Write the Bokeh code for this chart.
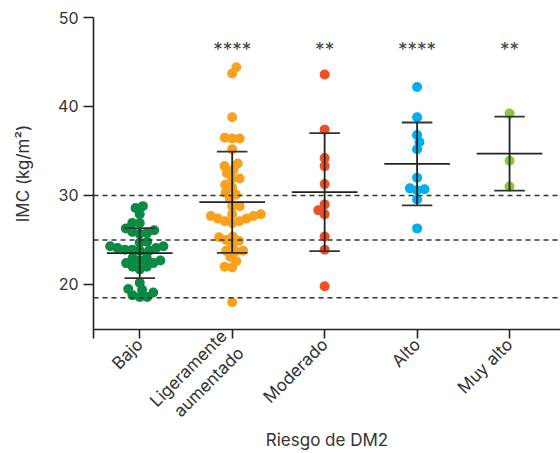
import numpy as np
from math import pi
from bokeh.plotting import figure
from bokeh.models import Span, FixedTicker, Range1d
from bokeh.core.properties import value
from bokeh.embed import file_html
from bokeh.resources import INLINE

# ---------------- data ----------------
categories = ["Bajo", "Ligeramente\naumentado", "Moderado", "Alto", "Muy alto"]
bajo = [28.8, 28.6, 27.9, 26.9, 26.9, 26.3, 26.1, 25.8, 25.7, 25.9, 24.7, 24.8,
        24.3, 24.1, 23.9, 23.8, 23.8, 23.9, 24.1, 24.3,
        23.0, 22.7, 22.4, 22.0, 21.7, 22.0, 22.4, 22.7, 23.0,
        20.2, 19.4, 18.8, 18.6, 18.6, 19.1, 19.5]
ligeramente = [44.4, 43.7, 38.8, 36.5, 36.4, 36.4, 35.2, 33.6, 33.3, 32.5, 32.9,
               31.9, 31.9, 31.2, 30.9, 30.3, 30.1, 29.6, 28.8, 28.8,
               27.9, 27.7, 27.4, 27.1, 26.9, 27.1, 27.4, 27.7, 27.9,
               25.4, 25.3, 24.9, 25.0, 24.5, 23.8, 23.7, 23.8,
               23.1, 22.6, 22.0, 21.9, 18.0]
moderado = [43.6, 37.4, 34.2, 33.3, 31.3, 29.0, 28.35, 27.9, 25.4, 23.9, 19.8]
alto = [42.2, 38.8, 36.8, 36.0, 35.2, 32.0, 30.8, 30.6, 30.7, 29.55, 26.3]
muy_alto = [39.2, 33.9, 31.0]
groups = [bajo, ligeramente, moderado, alto, muy_alto]
significance = ["", "****", "**", "****", "**"]
thresholds = [18.5, 25, 30]
y_ticks = [20, 30, 40, 50]
x_title = "Riesgo de DM2"
y_title = "IMC (kg/m²)"

colors = ["#0A8A43", "#F8A11E", "#F04E23", "#00AEEF", "#8DC63F"]
FONT = "Inter"
TXT = "#333333"

W, H = 560, 453
LEFT, RIGHT, TOP, BOTTOM = 93, 0, 17, 124
x0, x1 = -0.5, 4.551
y0, y1 = 14.94, 50.0

p = figure(width=W, height=H, output_backend="svg", toolbar_location=None,
           x_range=Range1d(x0, x1), y_range=Range1d(y0, y1),
           min_border_left=LEFT, min_border_right=RIGHT,
           min_border_top=TOP, min_border_bottom=BOTTOM)
p.outline_line_color = None
p.grid.visible = False
p.background_fill_color = "white"
p.border_fill_color = "white"

# pixel scales (px per data unit)
sx = (W - LEFT - RIGHT) / (x1 - x0)
sy = (H - TOP - BOTTOM) / (y1 - y0)
D = 10.0      # marker diameter in px
SP = 7.5      # swarm spacing in px (dots overlap a little)


def swarm(vals):
    vals = np.asarray(vals, dtype=float)
    order = np.argsort(vals, kind="stable")
    placed = []
    offs = np.zeros(len(vals))
    for i in order:
        y = vals[i] * sy
        forb = []
        for xp, yp in placed:
            dy = abs(y - yp)
            if dy < SP:
                w = np.sqrt(SP * SP - dy * dy)
                forb.append((xp - w, xp + w))
        cands = [0.0] + [a for a, b in forb] + [b for a, b in forb]
        cands.sort(key=lambda c: (abs(c), -c if len(placed) % 2 else c))
        xsel = 0.0
        for c in cands:
            if all(not (a + 1e-6 < c < b - 1e-6) for a, b in forb):
                xsel = c
                break
        placed.append((xsel, y))
        offs[i] = xsel / sx
    return offs


# threshold dashed lines
for t in thresholds:
    p.add_layout(Span(location=t, dimension="width", line_color="#333333",
                      line_dash="5 4", line_width=1.5))

# points
for k, g in enumerate(groups):
    xs = k + swarm(g)
    p.scatter(xs, g, size=D, fill_color=colors[k], line_color=None)

# mean +/- SD
MEAN_HW = 0.355
CAP_HW = 0.165
for k, g in enumerate(groups):
    m = float(np.mean(g))
    s = float(np.std(g, ddof=1))
    p.segment([k], [m - s], [k], [m + s], line_color="#222222", line_width=1.8)
    p.segment([k - CAP_HW, k - CAP_HW], [m - s, m + s], [k + CAP_HW, k + CAP_HW],
              [m - s, m + s], line_color="#333333", line_width=1.8)
    p.segment([k - MEAN_HW], [m], [k + MEAN_HW], [m], line_color="#222222",
              line_width=1.8)

# significance stars
p.text(x=list(range(len(categories))), y=[46.4] * len(categories), text=significance,
       text_font=value(FONT), text_font_size="19px", text_color="#444444",
       text_align="center", text_baseline="middle")

# axes
xa = p.xaxis[0]
xa.ticker = FixedTicker(ticks=[-0.5] + list(range(len(categories))))
overrides = {-0.5: ""}
for k, c in enumerate(categories):
    overrides[k] = c
xa.major_label_overrides = overrides
xa.major_label_orientation = pi / 4
xa.minor_tick_line_color = None
xa.major_tick_in = 0
xa.major_tick_out = 9
xa.axis_line_width = 1.6
xa.major_tick_line_width = 1.6
xa.axis_line_color = "#222222"
xa.major_tick_line_color = "#222222"
xa.major_label_text_font = FONT
xa.major_label_text_font_size = "17px"
xa.major_label_text_color = TXT
xa.major_label_standoff = 3
xa.axis_label = x_title
xa.axis_label_text_font = FONT
xa.axis_label_text_font_size = "17px"
xa.axis_label_text_font_style = "normal"
xa.axis_label_text_color = TXT
xa.axis_label_standoff = -16

ya = p.yaxis[0]
ya.ticker = FixedTicker(ticks=y_ticks)
ya.minor_tick_line_color = None
ya.major_tick_in = 0
ya.major_tick_out = 10
ya.axis_line_width = 1.6
ya.major_tick_line_width = 1.6
ya.axis_line_color = "#222222"
ya.major_tick_line_color = "#222222"
ya.major_label_text_font = FONT
ya.major_label_text_font_size = "16px"
ya.major_label_text_color = TXT
ya.major_label_standoff = 5
ya.axis_label = y_title
ya.axis_label_text_font = FONT
ya.axis_label_text_font_size = "17px"
ya.axis_label_text_font_style = "normal"
ya.axis_label_text_color = TXT
ya.axis_label_standoff = 22

open("out.html", "w").write(file_html(p, INLINE))
